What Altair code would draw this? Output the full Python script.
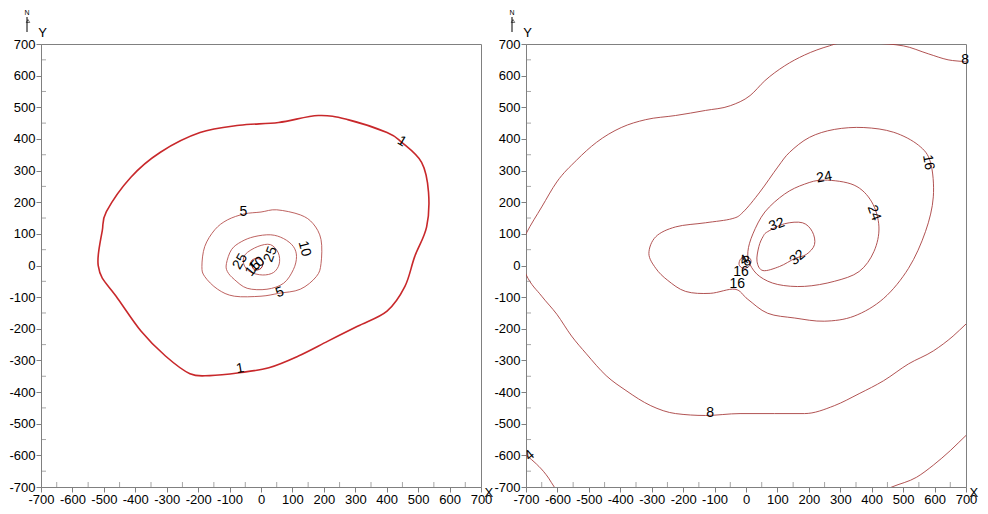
import altair as alt
import pandas as pd

# ---------------- data ----------------
TICKS = list(range(-700, 701, 100))
MINOR = list(range(-650, 651, 100))

# Left panel contours (closed rings)
L1_X = [-517, -505, -492, -414, -320, -194, -69, 56, 182, 276, 401, 448, 511, 533, 527, 489, 458, 401, 307, 213, 119, 25, -69, -163, -226, -304, -382, -461, -505, -518]
L1_Y = [40, 110, 170, 279, 358, 420, 443, 452, 474, 461, 420, 389, 326, 232, 122, 28, -66, -144, -192, -239, -286, -323, -339, -348, -342, -286, -207, -97, -40, 0]

L5_X = [-188, -179, -147, -107, -53, 0, 50, 125, 166, 191, 191, 176, 125, 56, 0, -85, -138, -179]
L5_Y = [-3, 60, 113, 144, 163, 169, 176, 160, 132, 82, 6, -35, -75, -88, -97, -97, -75, -35]

L10_X = [-110, -94, -63, -22, 31, 72, 103, 113, 103, 72, 19, -44, -85, -107]
L10_Y = [6, 50, 75, 91, 97, 85, 60, 28, -13, -56, -75, -72, -44, -19]

L15_X = [-50, -10, 30, 55, 58, 40, 5, -35, -55]
L15_Y = [35, 60, 66, 40, 5, -22, -30, -20, 5]

L25_X = [-31, -13, 6, 0, -22]
L25_Y = [13, 22, 13, -9, -13]

L_LAB_TEXT = ["1", "1", "5", "10", "5", "25", "15", "10", "25"]
L_LAB_X = [448, -66, -56, 138, 60, -66, -25, -13, 31]
L_LAB_Y = [392, -326, 169, 53, -85, 13, -9, 3, 35]
L_LAB_ANGLE = [30, 350, 0, 75, 340, 300, 310, 320, 290]

# Right panel contours
R8A_X = [-710, -700, -650, -602, -539, -476, -397, -319, -224, -129, -50, 13, 60, 123, 186, 265, 296, 407, 501, 580, 643, 700, 710]
R8A_Y = [80, 100, 185, 264, 333, 389, 436, 461, 474, 490, 505, 537, 584, 631, 665, 694, 702, 702, 694, 669, 650, 643, 641]

R8B_X = [-710, -700, -650, -602, -555, -508, -445, -382, -303, -224, -129, -19, 91, 186, 281, 360, 438, 517, 596, 659, 700, 710]
R8B_Y = [-5, -28, -97, -154, -223, -279, -348, -395, -443, -468, -474, -468, -468, -468, -443, -405, -364, -311, -270, -223, -185, -176]

R4A_X = [-712, -690, -628, -610, -600]
R4A_Y = [-590, -607, -672, -700, -712]

R4B_X = [450, 464, 543, 596, 650, 700, 712]
R4B_Y = [-706, -700, -669, -631, -585, -537, -526]

R16_X = [-35, 6, 69, 155, 249, 344, 438, 517, 571, 596, 587, 549, 470, 375, 281, 202, 139, 101, 44, -9, -44, -129, -224, -287, -309, -287, -249, -192, -114]
R16_Y = [-75, -107, -151, -166, -176, -160, -104, -9, 107, 217, 326, 380, 421, 436, 430, 405, 358, 311, 232, 169, 148, 135, 122, 91, 38, -9, -47, -82, -88]

R24_X = [249, 344, 400, 423, 407, 360, 281, 186, 101, 44, 13, 6, 22, 60, 123, 186]
R24_Y = [270, 254, 201, 122, 44, -19, -50, -66, -60, -35, 3, 44, 100, 169, 226, 257]

R32_X = [69, 123, 180, 211, 218, 192, 155, 107, 54, 35, 41, 54]
R32_Y = [107, 132, 135, 107, 66, 35, 22, -3, -16, 13, 60, 91]

RC_X = [-16, 3, 16, 9, -9, -22]
RC_Y = [22, 28, 16, -3, -9, 3]

R_LAB_TEXT = ["8", "8", "4", "16", "16", "16", "4", "8", "24", "24", "32", "32"]
R_LAB_X = [697, -114, -688, 580, -28, -16, -6, 3, 249, 407, 98, 164]
R_LAB_Y = [650, -465, -600, 326, -60, -19, 16, 13, 279, 166, 129, 25]
R_LAB_ANGLE = [0, 0, 320, 80, 0, 0, 330, 340, 350, 70, 340, 320]

# ---------------- helpers ----------------
W = 440
H = 443
FONT = "Liberation Sans"
GRAY = "#808080"
LABEL_EXPR = "'' + datum.value"


def lines_df(curves):
    rows = []
    for cid, (xs, ys) in enumerate(curves):
        for i, (x, y) in enumerate(zip(xs, ys)):
            rows.append({"cid": cid, "o": i, "x": x, "y": y})
    return pd.DataFrame(rows)


def labels_df(texts, xs, ys, angles):
    return pd.DataFrame({"t": texts, "x": xs, "y": ys, "a": angles})


xscale = alt.Scale(domain=[-700, 700], nice=False, zero=False)
yscale = alt.Scale(domain=[-700, 700], nice=False, zero=False)

xaxis = alt.Axis(values=TICKS, title="X", titleX=W + 3, titleY=5, titleAlign="left",
                 titleBaseline="middle", titleFontWeight="normal", titleFontSize=13,
                 titleFont=FONT, titleColor="black", labelFont=FONT, labelFontSize=13,
                 labelColor="black", tickSize=5, tickColor=GRAY, domainColor=GRAY,
                 labelPadding=1, grid=False, labelFlush=False, labelOverlap=False,
                 labelExpr=LABEL_EXPR)
yaxis = alt.Axis(values=TICKS, title="Y", titleX=1, titleY=-8, titleAlign="center",
                 titleBaseline="alphabetic", titleAngle=0, titleFontWeight="normal",
                 titleFontSize=13, titleFont=FONT, titleColor="black", labelFont=FONT,
                 labelFontSize=13, labelColor="black", tickSize=5, tickColor=GRAY,
                 domainColor=GRAY, labelPadding=1, grid=False, labelFlush=False,
                 labelOverlap=False, labelExpr=LABEL_EXPR)


def X(f="x"):
    return alt.X(f"{f}:Q", scale=xscale, axis=xaxis)


def Y(f="y"):
    return alt.Y(f"{f}:Q", scale=yscale, axis=yaxis)


def closed_layer(curves, color, width):
    return alt.Chart(lines_df(curves)).mark_line(
        interpolate="cardinal-closed", color=color, strokeWidth=width, clip=True
    ).encode(x=X(), y=Y(), detail="cid:N", order="o:Q")


def open_layer(curves, color, width):
    return alt.Chart(lines_df(curves)).mark_line(
        interpolate="monotone", color=color, strokeWidth=width, clip=True
    ).encode(x=X(), y=Y(), detail="cid:N", order="o:Q")


def label_layer(df):
    return alt.Chart(df).mark_text(font=FONT, fontSize=14, color="black",
                                   align="center", baseline="middle").encode(
        x=X(), y=Y(), text="t:N", angle=alt.Angle("a:Q", scale=None))


def minor_layers():
    mdf = pd.DataFrame({"v": MINOR})
    mx = alt.Chart(mdf).mark_tick(color=GRAY, size=5, thickness=1, orient="vertical").encode(
        x=X("v"), y=alt.value(H - 2.5))
    my = alt.Chart(mdf).mark_tick(color=GRAY, size=5, thickness=1, orient="horizontal").encode(
        y=Y("v"), x=alt.value(2.5))
    return [mx, my]


def north_layers():
    one = pd.DataFrame({"k": [0]})
    n = alt.Chart(one).mark_text(text="N", font=FONT, fontSize=7, color="black").encode(
        x=alt.value(-14), y=alt.value(-31))
    r = alt.Chart(one).mark_rule(color="black", strokeWidth=1).encode(
        x=alt.value(-14), y=alt.value(-27), y2=alt.value(-12))
    p = alt.Chart(one).mark_point(shape="triangle-up", size=12, filled=False,
                                  color="black", strokeWidth=0.8).encode(
        x=alt.value(-13), y=alt.value(-23))
    return [n, r, p]


THIN_L = "#b5504e"
THIN_R = "#a8403f"

left = alt.layer(
    closed_layer([(L1_X, L1_Y)], "#c8282b", 1.6),
    closed_layer([(L5_X, L5_Y), (L10_X, L10_Y), (L15_X, L15_Y)], THIN_L, 0.9),
    closed_layer([(L25_X, L25_Y)], "#9e2020", 1.0),
    label_layer(labels_df(L_LAB_TEXT, L_LAB_X, L_LAB_Y, L_LAB_ANGLE)),
    *minor_layers(),
    *north_layers(),
).properties(width=W, height=H)

right = alt.layer(
    closed_layer([(R16_X, R16_Y), (R24_X, R24_Y), (R32_X, R32_Y), (RC_X, RC_Y)], THIN_R, 0.9),
    open_layer([(R8A_X, R8A_Y), (R8B_X, R8B_Y), (R4A_X, R4A_Y), (R4B_X, R4B_Y)], THIN_R, 0.9),
    label_layer(labels_df(R_LAB_TEXT, R_LAB_X, R_LAB_Y, R_LAB_ANGLE)),
    *minor_layers(),
    *north_layers(),
).properties(width=W, height=H)

chart = alt.hconcat(left, right, spacing=45, bounds="flush").properties(
    padding={"left": 0, "top": 0, "right": 0, "bottom": 0},
    background="white",
).configure_view(stroke=GRAY, strokeWidth=1)

chart.save("out.html", embed_options={"renderer": "svg", "actions": False})
